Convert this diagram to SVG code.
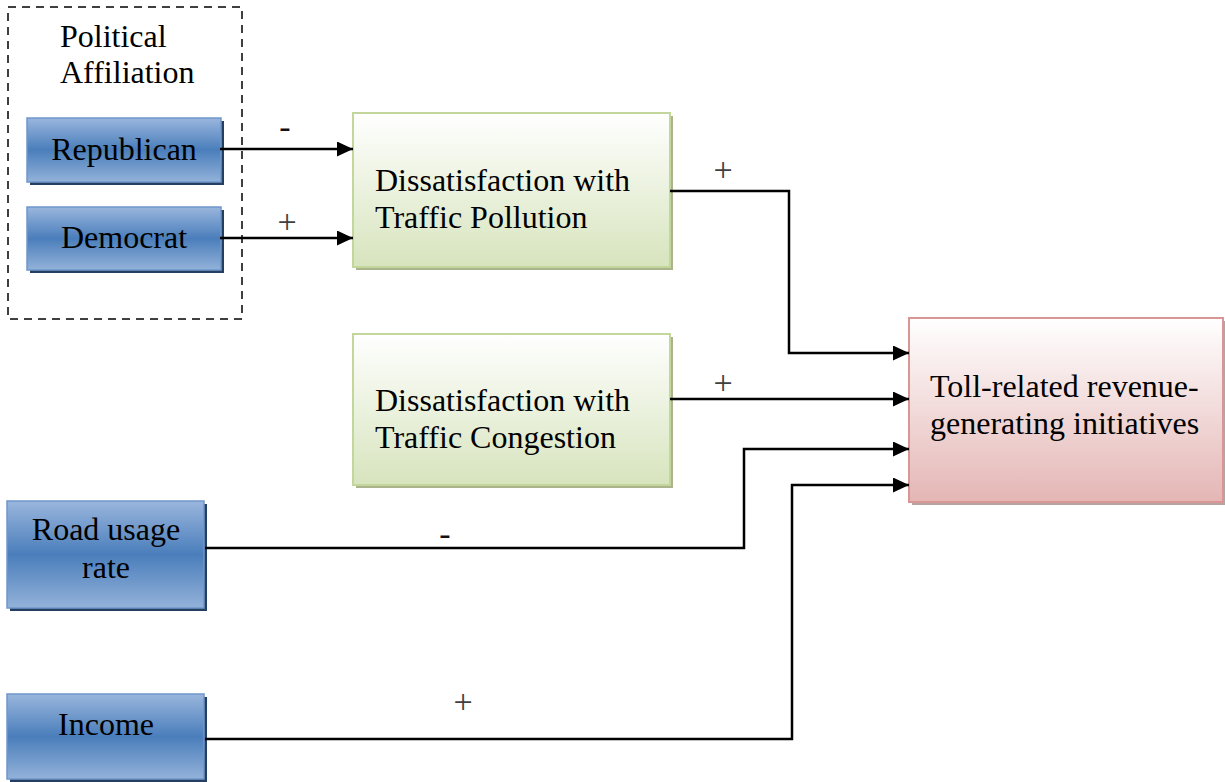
<svg xmlns="http://www.w3.org/2000/svg" width="1225" height="782" viewBox="0 0 1225 782">
<style>
text { font-family: "Liberation Serif", "Times New Roman", serif; font-size: 32px; fill: #000; }
.lbl { font-size: 34px; fill: #404040; text-anchor: middle; }
.hy { font-size: 34px; fill: #111; text-anchor: middle; }
.mid { text-anchor: middle; }
.blue { fill: url(#gBlue); stroke: #6f97cb; stroke-width: 1.5; }
.blueSh { fill: #243f60; }
.green { fill: url(#gGreen); stroke: #c3d69b; stroke-width: 2; }
.greenSh { fill: #aab38c; }
.pink { fill: url(#gPink); stroke: #d99694; stroke-width: 2; }
.pinkSh { fill: #b8a3a3; }
.conn { fill: none; stroke: #000; stroke-width: 2.5; marker-end: url(#arr); }
.dash { fill: none; stroke: #000; stroke-width: 1.5; stroke-dasharray: 8 6; }
</style>
<defs>
<linearGradient id="gBlue" x1="0" y1="0" x2="0" y2="1">
<stop offset="0" stop-color="#9ab6dd"/>
<stop offset="0.5" stop-color="#4a7ebb"/>
<stop offset="1" stop-color="#93b2d9"/>
</linearGradient>
<linearGradient id="gGreen" x1="0" y1="0" x2="0" y2="1">
<stop offset="0" stop-color="#ffffff"/>
<stop offset="1" stop-color="#d7e4bd"/>
</linearGradient>
<linearGradient id="gPink" x1="0" y1="0" x2="0" y2="1">
<stop offset="0" stop-color="#ffffff"/>
<stop offset="1" stop-color="#e4b6b5"/>
</linearGradient>
<marker id="arr" markerUnits="userSpaceOnUse" markerWidth="16" markerHeight="15" refX="16" refY="7.5" orient="auto">
<path d="M0,0 L16,7.5 L0,15 z" fill="#000"/>
</marker>
</defs>

<g id="political-affiliation">
<rect class="dash" x="8" y="7" width="234" height="312"/>
<text x="60" y="47">Political</text>
<text x="60" y="83">Affiliation</text>
</g>

<g id="republican">
<rect class="blueSh" x="30" y="121" width="194" height="64"/>
<rect class="blue" x="27" y="118" width="194" height="64"/>
<text class="mid" x="124" y="160">Republican</text>
</g>

<g id="democrat">
<rect class="blueSh" x="30" y="210" width="194" height="63"/>
<rect class="blue" x="27" y="207" width="194" height="63"/>
<text class="mid" x="124" y="248">Democrat</text>
</g>

<g id="pollution">
<rect class="greenSh" x="356" y="116" width="317" height="154"/>
<rect class="green" x="353" y="113" width="317" height="154"/>
<text x="375" y="191">Dissatisfaction with</text>
<text x="375" y="228">Traffic Pollution</text>
</g>

<g id="congestion">
<rect class="greenSh" x="356" y="337" width="317" height="151"/>
<rect class="green" x="353" y="334" width="317" height="151"/>
<text x="375" y="411">Dissatisfaction with</text>
<text x="375" y="448">Traffic Congestion</text>
</g>

<g id="toll">
<rect class="pinkSh" x="912" y="321" width="314" height="184"/>
<rect class="pink" x="909" y="318" width="314" height="184"/>
<text x="930" y="397">Toll-related revenue-</text>
<text x="930" y="434">generating initiatives</text>
</g>

<g id="road-usage">
<rect class="blueSh" x="10" y="504" width="197" height="107"/>
<rect class="blue" x="7" y="501" width="197" height="107"/>
<text class="mid" x="106" y="540">Road usage</text>
<text class="mid" x="106" y="578">rate</text>
</g>

<g id="income">
<rect class="blueSh" x="10" y="697" width="197" height="85"/>
<rect class="blue" x="7" y="694" width="197" height="85"/>
<text class="mid" x="106" y="735">Income</text>
</g>

<g id="connectors">
<path class="conn" d="M220,149 H353"/>
<path class="conn" d="M220,238 H353"/>
<path class="conn" d="M670,191 H789 V353 H909"/>
<path class="conn" d="M670,399 H909"/>
<path class="conn" d="M205,548 H744 V449 H909"/>
<path class="conn" d="M205,739 H792 V485 H909"/>
<text class="hy" x="285" y="138">-</text>
<text class="lbl" x="287" y="233">+</text>
<text class="lbl" x="723" y="181">+</text>
<text class="lbl" x="723" y="394">+</text>
<text class="hy" x="445" y="545">-</text>
<text class="lbl" x="463" y="713">+</text>
</g>
</svg>
